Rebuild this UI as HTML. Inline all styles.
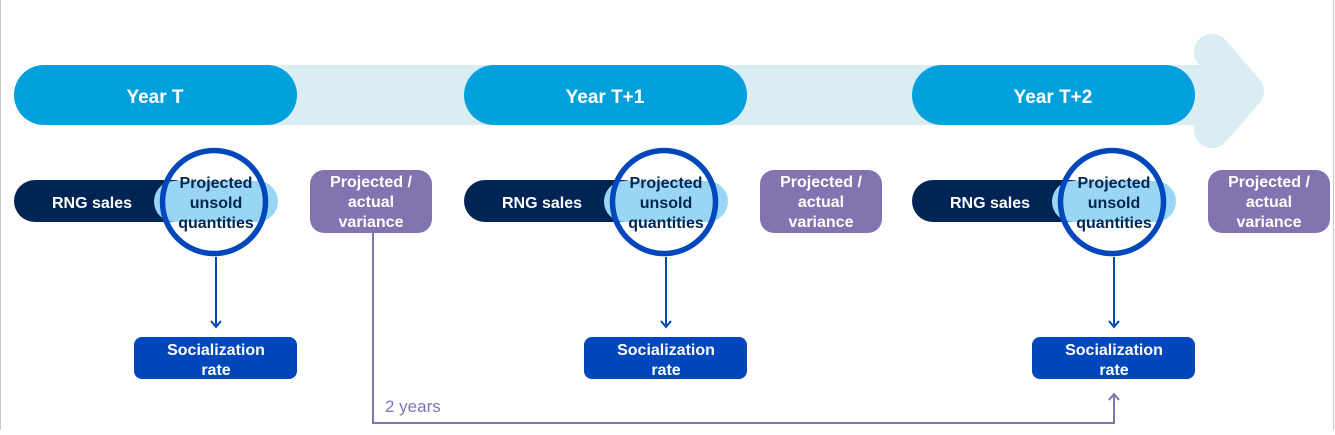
<!DOCTYPE html>
<html><head><meta charset="utf-8"><style>
body{margin:0;width:1335px;height:430px;overflow:hidden;background:#fff}
svg text{font-family:"Liberation Sans",Arial,sans-serif;font-weight:bold}
</style></head><body>
<svg width="1335" height="430" viewBox="0 0 1335 430" xmlns="http://www.w3.org/2000/svg">
<defs>
<marker id="ab" markerWidth="12" markerHeight="12" refX="10" refY="6" orient="auto" markerUnits="userSpaceOnUse"><path d="M4,1 L10,6 L4,11" fill="none" stroke="#0047bb" stroke-width="2"/></marker>
<marker id="ap" markerWidth="12" markerHeight="12" refX="10" refY="6" orient="auto" markerUnits="userSpaceOnUse"><path d="M4,1 L10,6 L4,11" fill="none" stroke="#8274b0" stroke-width="2"/></marker>
</defs>
<line x1="0.5" y1="0" x2="0.5" y2="430" stroke="#c8c8c8"/>
<line x1="1333.5" y1="0" x2="1333.5" y2="430" stroke="#c8c8c8"/>
<rect x="40" y="65" width="1200" height="60" fill="#daedf3"/>
<polyline points="1212,52 1246,91 1212,130" fill="none" stroke="#daedf3" stroke-width="36" stroke-linecap="round" stroke-linejoin="round"/>
<g id="g1">
<rect x="14" y="65" width="283" height="60" rx="30" fill="#00a0dc"/>
<rect x="14" y="180" width="180" height="42" rx="21" fill="#002554"/>
<text x="92" y="208" fill="#fff" font-size="16" text-anchor="middle">RNG sales</text>
<rect x="154" y="181" width="124" height="41" rx="20.5" fill="#99d6f4"/>
<circle cx="214" cy="202" r="51.5" fill="none" stroke="#0047bb" stroke-width="5.5"/>
<text fill="#002554" font-size="16" text-anchor="middle"><tspan x="216" y="188">Projected</tspan><tspan x="216" y="208">unsold</tspan><tspan x="216" y="228">quantities</tspan></text>
<rect x="310" y="170" width="122" height="63" rx="14" fill="#8274b0"/>
<text fill="#fff" font-size="16" text-anchor="middle"><tspan x="371" y="187">Projected /</tspan><tspan x="371" y="207">actual</tspan><tspan x="371" y="227">variance</tspan></text>
<line x1="216" y1="257" x2="216" y2="327" stroke="#0047bb" stroke-width="2" marker-end="url(#ab)"/>
<rect x="134" y="337" width="163" height="42" rx="8" fill="#0047bb"/>
<text fill="#fff" font-size="16" text-anchor="middle"><tspan x="216" y="355">Socialization</tspan><tspan x="216" y="375">rate</tspan></text>
</g>
<use href="#g1" x="450"/>
<use href="#g1" x="898"/>
<text x="155" y="103" fill="#fff" font-size="19" text-anchor="middle">Year T</text>
<text x="605" y="103" fill="#fff" font-size="19" text-anchor="middle">Year T+1</text>
<text x="1053" y="103" fill="#fff" font-size="19" text-anchor="middle">Year T+2</text>
<polyline points="373,233 373,423 1114,423 1114,394" fill="none" stroke="#8274b0" stroke-width="2" marker-end="url(#ap)"/>
<text x="385" y="412" fill="#8274b0" font-size="17" style="font-weight:normal">2 years</text>
</svg>
</body></html>
